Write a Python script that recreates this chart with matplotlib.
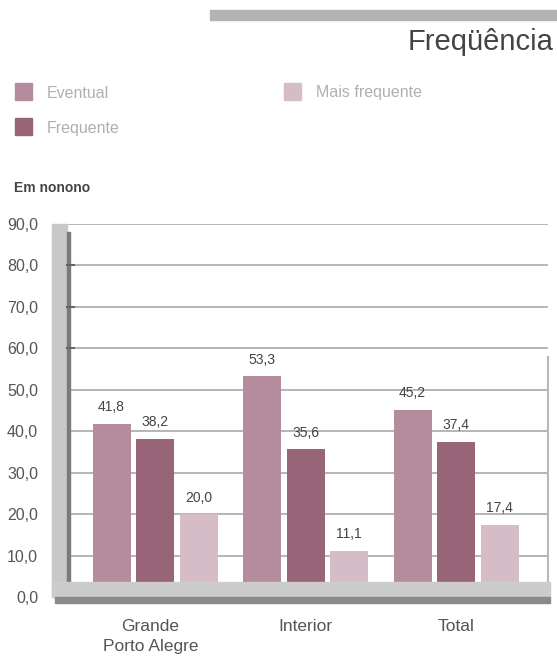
import numpy as np
import matplotlib.pyplot as plt
from matplotlib.patches import Rectangle

# Datos
categorias = ["Grande\nPorto Alegre", "Interior", "Total"]
series = ["Eventual", "Frequente", "Mais frequente"]
eventual = [41.8, 53.3, 45.2]
frequente = [38.2, 35.6, 37.4]
mais_frequente = [20.0, 11.1, 17.4]
colores = ["#b48c9e", "#986478", "#d5bcc7"]
yticks = [0, 10, 20, 30, 40, 50, 60, 70, 80, 90]

plt.rcParams['font.family'] = ['Liberation Sans Narrow', 'Liberation Sans', 'DejaVu Sans']

W, H = 557, 660
fig = plt.figure(figsize=(W / 100, H / 100), dpi=100)

def fx(px):
    return px / W

def fy(py):
    return 1 - py / H

# Cabecera
fig.patches.append(Rectangle((fx(210), fy(20)), fx(557) - fx(210), fy(10) - fy(20),
                             transform=fig.transFigure, color="#b3b3b3", zorder=0))
fig.text(fx(553), fy(42), "Freqüência", ha="right", va="center", fontsize=21, color="#444444")

# Leyenda
leyenda = [(15, 92, series[0], colores[0]), (15, 127, series[1], colores[1]),
           (284, 92, series[2], colores[2])]
for x, y, txt, c in leyenda:
    fig.patches.append(Rectangle((fx(x), fy(y + 8)), 17 / W, 17 / H,
                                 transform=fig.transFigure, color=c))
    fig.text(fx(x + 32), fy(y + 1), txt, ha="left", va="center", fontsize=11.5, color="#b0b0b0")

fig.text(fx(14), fy(188), "Em nonono", ha="left", va="center", fontsize=10,
         fontweight="bold", color="#444444", family=["Liberation Sans", "DejaVu Sans"])

# Ejes: y=0 en 597 px, y=90 en 224 px; x de 52 a 550 px
ax = fig.add_axes([fx(52), fy(597), fx(550) - fx(52), fy(224) - fy(597)])
ax.set_ylim(0, 90)
x0 = -(155 - 52) / 150.5
x1 = 2 + (550 - 456) / 150.5
ax.set_xlim(x0, x1)
for s in ax.spines.values():
    s.set_visible(False)
ax.set_xticks([])
ax.set_yticks(yticks)
ax.set_yticklabels([f"{v:.1f}".replace(".", ",") for v in yticks], fontsize=11.5, color="#555555")
ax.tick_params(axis="y", length=0, pad=10)

def ax_x(px):
    return (px - 52) / (550 - 52)

# Lineas de grilla
for v in yticks[1:]:
    inicio = 58 if v in (50, 90) else 72
    ax.axhline(v, xmin=ax_x(inicio), xmax=ax_x(547), color="#b0b0b0", lw=1.3, zorder=1)

# Barras
x = np.arange(len(categorias))
ancho = 38 / 150.5
paso = 43.5 / 150.5
for i, (vals, c) in enumerate(zip([eventual, frequente, mais_frequente], colores)):
    pos = x + (i - 1) * paso
    ax.bar(pos, vals, width=ancho, color=c, zorder=3)
    for p, v in zip(pos, vals):
        ax.text(p, v + 2.3, f"{v:.1f}".replace(".", ","), ha="center", va="bottom",
                fontsize=10, color="#444444", zorder=4)

# Pared izquierda
ppu = (597 - 224) / 90
ax.add_patch(Rectangle((0, 0), ax_x(67), 90, transform=ax.get_yaxis_transform(),
                       color="#c8c8c8", zorder=5, clip_on=False))
ax.add_patch(Rectangle((ax_x(67), (597 - 582) / ppu), ax_x(70) - ax_x(67), (582 - 232) / ppu,
                       transform=ax.get_yaxis_transform(), color="#7a7a7a", zorder=6, clip_on=False))
for v in (80, 70, 60):
    ax.plot([ax_x(67), ax_x(74)], [v, v], transform=ax.get_yaxis_transform(),
            color="#666666", lw=1.5, zorder=6, clip_on=False)

# Piso
ax.add_patch(Rectangle((0, 0), 1, (597 - 582) / ppu, transform=ax.get_yaxis_transform(),
                       color="#cccccc", zorder=7, clip_on=False))
ax.add_patch(Rectangle((ax_x(55), -(603 - 597) / ppu), ax_x(550) - ax_x(55), (603 - 597) / ppu,
                       transform=ax.get_yaxis_transform(), color="#8a8a8a", zorder=7, clip_on=False))

# Borde derecho
ax.plot([ax_x(548), ax_x(548)], [(597 - 582) / ppu, (597 - 357) / ppu],
        transform=ax.get_yaxis_transform(), color="#b8b8b8", lw=1.5, zorder=2, clip_on=False)

# Etiquetas de categoria
for xi, cat in zip(x, categorias):
    ax.text(xi - (0.03 if "\n" in cat else 0), -5.2, cat, ha="center", va="top",
            fontsize=12.5, color="#555555", linespacing=1.45, clip_on=False)

fig.savefig("out.png", dpi=100)
